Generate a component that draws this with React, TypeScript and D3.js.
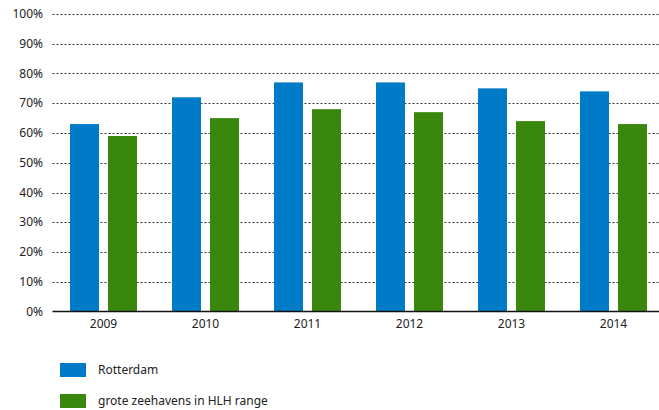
import { useEffect, useRef } from "react";
import * as d3 from "d3";

// values (percent)
const years = ["2009", "2010", "2011", "2012", "2013", "2014"];
const rotterdam = [63, 72, 77, 77, 75, 74];
const hlhRange = [59, 65, 68, 67, 64, 63];
const yTicks = [0, 10, 20, 30, 40, 50, 60, 70, 80, 90, 100];
const seriesNames = ["Rotterdam", "grote zeehavens in HLH range"];

const colors = ["#007bc7", "#39870c"];

const App = () => {
  const svgRef = useRef<SVGSVGElement | null>(null);

  useEffect(() => {
    if (!svgRef.current) return;
    const width = 659;
    const height = 410;
    const left = 52.5;
    const top = 14;
    const bottom = 311.5;

    const svg = d3.select(svgRef.current);
    svg.selectAll("*").remove();
    svg.attr("width", width).attr("height", height);

    const font = "'Noto Sans', 'Open Sans', sans-serif";

    const x = d3
      .scaleBand()
      .domain(years)
      .range([left, left + 612])
      .paddingInner(0)
      .paddingOuter(0);

    const y = d3.scaleLinear().domain([0, 100]).range([bottom, top]);

    // dashed grid lines
    svg
      .append("g")
      .selectAll("line")
      .data(yTicks.filter((t) => t > 0))
      .enter()
      .append("line")
      .attr("x1", left)
      .attr("x2", width)
      .attr("y1", (d) => Math.round(y(d)) + 0.5)
      .attr("y2", (d) => Math.round(y(d)) + 0.5)
      .attr("stroke", "#333")
      .attr("stroke-width", 1)
      .attr("stroke-dasharray", "2,2");

    // y labels
    svg
      .append("g")
      .selectAll("text")
      .data(yTicks)
      .enter()
      .append("text")
      .attr("x", 43)
      .attr("y", (d) => y(d))
      .attr("dy", "0.35em")
      .attr("text-anchor", "end")
      .attr("font-family", font)
      .attr("font-size", "12px")
      .attr("fill", "#222")
      .text((d) => `${d}%`);

    // bars
    const barW = 29;
    const gap = 9;
    const series = [rotterdam, hlhRange];
    series.forEach((vals, si) => {
      svg
        .append("g")
        .selectAll("rect")
        .data(vals)
        .enter()
        .append("rect")
        .attr("x", (_d, i) => {
          const c = (x(years[i]) ?? 0) + x.bandwidth() / 2;
          return si === 0 ? c - gap / 2 - barW : c + gap / 2;
        })
        .attr("y", (d) => y(d))
        .attr("width", barW)
        .attr("height", (d) => bottom - y(d))
        .attr("fill", colors[si]);
    });

    // baseline
    svg
      .append("line")
      .attr("x1", left)
      .attr("x2", width)
      .attr("y1", bottom)
      .attr("y2", bottom)
      .attr("stroke", "#111")
      .attr("stroke-width", 1.5);

    // x labels
    svg
      .append("g")
      .selectAll("text")
      .data(years)
      .enter()
      .append("text")
      .attr("x", (d) => (x(d) ?? 0) + x.bandwidth() / 2)
      .attr("y", 328)
      .attr("text-anchor", "middle")
      .attr("font-family", font)
      .attr("font-size", "12px")
      .attr("fill", "#222")
      .text((d) => d);

    // legend
    const legend = svg
      .append("g")
      .selectAll("g")
      .data(seriesNames)
      .enter()
      .append("g")
      .attr("transform", (_d, i) => `translate(60,${363 + i * 31})`);
    legend
      .append("rect")
      .attr("width", 26)
      .attr("height", 14)
      .attr("fill", (_d, i) => colors[i]);
    legend
      .append("text")
      .attr("x", 38)
      .attr("y", 7)
      .attr("dy", "0.35em")
      .attr("font-family", font)
      .attr("font-size", "12px")
      .attr("fill", "#222")
      .text((d) => d);
  }, []);

  return (
    <svg
      ref={svgRef}
      style={{ position: "absolute", left: 0, top: 0, display: "block" }}
    ></svg>
  );
};

export default App;
